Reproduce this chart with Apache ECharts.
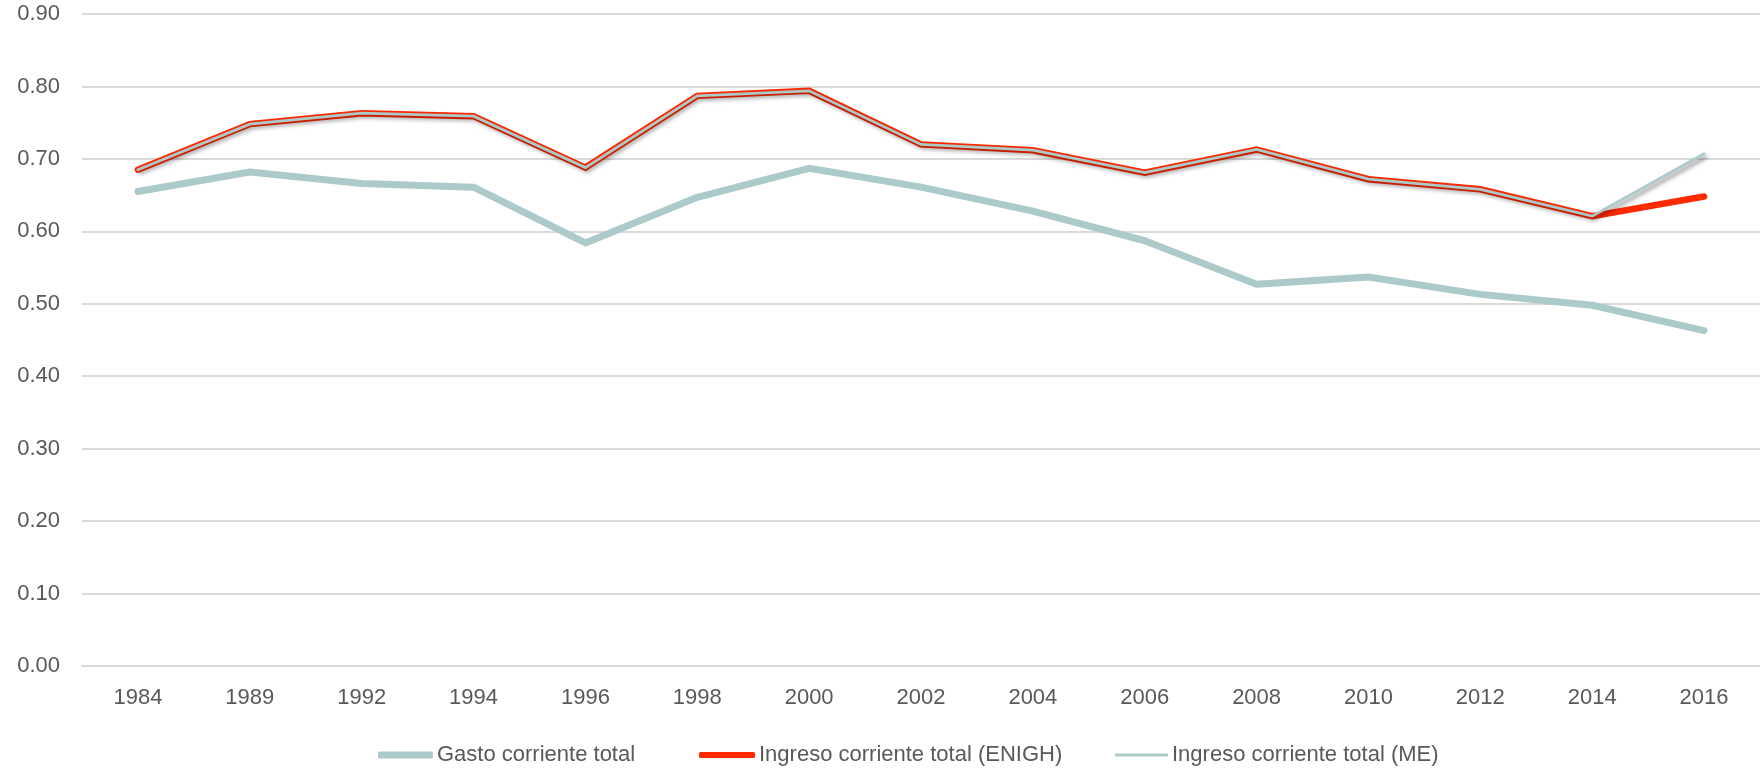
<!DOCTYPE html>
<html>
<head>
<meta charset="utf-8">
<script src="https://cdn.jsdelivr.net/npm/echarts@6/dist/echarts.min.js"></script>
<style>
html,body{margin:0;padding:0;background:#fff;}
#chart{width:1760px;height:772px;}
</style>
</head>
<body>
<div id="chart"></div>
<script>
const years = ['1984','1989','1992','1994','1996','1998','2000','2002','2004','2006','2008','2010','2012','2014','2016'];
const yTicks = [0,0.1,0.2,0.3,0.4,0.5,0.6,0.7,0.8,0.9];
const seriesNames = ['Gasto corriente total','Ingreso corriente total (ENIGH)','Ingreso corriente total (ME)'];
const gasto = [0.655,0.682,0.666,0.661,0.584,0.647,0.687,0.661,0.628,0.587,0.527,0.537,0.513,0.498,0.463];
const ingresoENIGH = [0.685,0.748,0.763,0.759,0.688,0.787,0.794,0.720,0.712,0.681,0.713,0.672,0.658,0.621,0.648];
const ingresoME = [0.685,0.748,0.763,0.759,0.688,0.787,0.794,0.720,0.712,0.681,0.713,0.672,0.658,0.621,0.707];

const teal = '#abcac9';
const red = '#ff2a00';
const txt = '#595959';
const font = 'Liberation Sans';

const chart = echarts.init(document.getElementById('chart'));

function legendAt(name, left, color, h, w) {
  return {
    left: left, top: 744, orient: 'horizontal',
    itemWidth: w, itemHeight: h, itemGap: 0,
    selectedMode: false,
    data: [{name: name, icon: 'roundRect', itemStyle: {color: color, borderWidth: 0}}],
    textStyle: {color: txt, fontFamily: font, fontSize: 22, padding: [0,0,0,-1]},
    padding: 0
  };
}

chart.setOption({
  animation: false,
  backgroundColor: '#ffffff',
  grid: {left: 82, top: 14, width: 1700, bottom: 106},
  legend: [
    legendAt(seriesNames[0], 378, teal, 7, 55),
    legendAt(seriesNames[1], 699, red, 6, 56),
    legendAt(seriesNames[2], 1115, teal, 3, 53)
  ],
  xAxis: {
    type: 'category', data: years, boundaryGap: true,
    axisLine: {show: true, lineStyle: {color: '#d9d9d9', width: 2}},
    axisTick: {show: false},
    axisLabel: {color: txt, fontFamily: font, fontSize: 22, margin: 21}
  },
  yAxis: {
    type: 'value', min: yTicks[0], max: yTicks[yTicks.length-1], interval: 0.1,
    axisLine: {show: false}, axisTick: {show: false},
    splitLine: {lineStyle: {color: '#d9d9d9', width: 2}},
    axisLabel: {color: txt, fontFamily: font, fontSize: 22, margin: 22,
      formatter: v => v.toFixed(2)}
  },
  series: [
    {name: seriesNames[0], type: 'line', data: gasto, symbol: 'none', z: 2,
      lineStyle: {color: teal, width: 7, cap: 'round', join: 'round'}, itemStyle: {color: teal}},
    {name: seriesNames[1], type: 'line', data: ingresoENIGH, symbol: 'none', z: 3,
      lineStyle: {color: red, width: 6.5, cap: 'round', join: 'miter'}, itemStyle: {color: red}},
    {name: seriesNames[2], type: 'line', data: ingresoME, symbol: 'none', z: 4,
      lineStyle: {color: teal, width: 2.75, cap: 'round', join: 'miter',
        shadowColor: 'rgba(0,0,0,0.5)', shadowBlur: 4, shadowOffsetX: 2, shadowOffsetY: 3},
      itemStyle: {color: teal}}
  ]
});
</script>
</body>
</html>
